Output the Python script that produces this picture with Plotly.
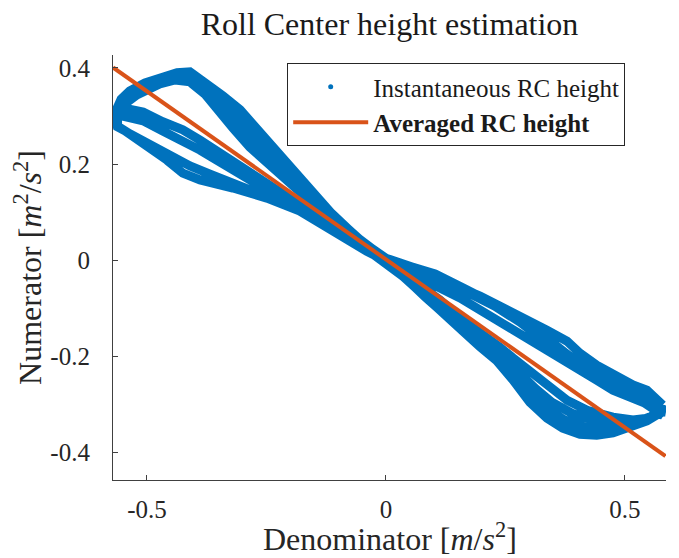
import plotly.graph_objects as go

# ---- data ----
# Instantaneous RC height: four hysteresis cycles (Denominator, Numerator)
cycle1_x = [0.579, 0.546, 0.517, 0.475, 0.441, 0.406, 0.379, 0.337, 0.266, 0.197, 0.128, 0.056, 0.0,
            -0.061, -0.096, -0.132, -0.165, -0.201, -0.228, -0.270, -0.305, -0.341, -0.368, -0.389, -0.410,
            -0.437, -0.473, -0.504, -0.536, -0.554, -0.563, -0.563,
            -0.561, -0.546, -0.515, -0.479, -0.458, -0.425, -0.389, -0.320, -0.249, -0.180, -0.111, -0.040, 0.0,
            0.023, 0.056, 0.092, 0.128, 0.161, 0.197, 0.232, 0.266, 0.301, 0.337, 0.370, 0.406, 0.441,
            0.475, 0.510, 0.546, 0.569, 0.579]
cycle1_y = [-0.302, -0.271, -0.260, -0.240, -0.219, -0.194, -0.169, -0.146, -0.110, -0.075, -0.046, -0.015, 0.004,
            0.046, 0.077, 0.117, 0.154, 0.192, 0.227, 0.271, 0.313, 0.342, 0.360, 0.379, 0.392,
            0.390, 0.381, 0.369, 0.352, 0.335, 0.315, 0.292,
            0.277, 0.269, 0.248, 0.223, 0.208, 0.181, 0.167, 0.150, 0.129, 0.102, 0.060, 0.018, -0.002,
            -0.021, -0.052, -0.085, -0.115, -0.148, -0.181, -0.210, -0.250, -0.296, -0.329, -0.350, -0.363, -0.365,
            -0.360, -0.350, -0.335, -0.321, -0.302]

cycle2_x = [0.577, 0.552, 0.517, 0.475, 0.441, 0.406, 0.364, 0.322, 0.266, 0.218, 0.155, 0.092, 0.050, 0.0,
            -0.054, -0.096, -0.138, -0.180, -0.215, -0.249, -0.285, -0.320, -0.354, -0.379, -0.410, -0.441,
            -0.473, -0.504, -0.536, -0.554, -0.561,
            -0.550, -0.508, -0.467, -0.425, -0.389, -0.354, -0.320, -0.285, -0.249, -0.215, -0.180, -0.144,
            -0.090, -0.044, 0.0,
            0.029, 0.071, 0.113, 0.155, 0.197, 0.238, 0.266, 0.301, 0.337, 0.379, 0.421, 0.475, 0.517,
            0.552, 0.577]
cycle2_y = [-0.313, -0.302, -0.288, -0.271, -0.250, -0.229, -0.202, -0.177, -0.146, -0.115, -0.079, -0.048, -0.025, 0.0,
            0.040, 0.071, 0.106, 0.142, 0.173, 0.204, 0.235, 0.275, 0.313, 0.346, 0.371, 0.375,
            0.367, 0.354, 0.338, 0.321, 0.306,
            0.317, 0.308, 0.288, 0.271, 0.250, 0.227, 0.204, 0.181, 0.158, 0.135, 0.113, 0.090,
            0.054, 0.027, 0.0,
            -0.021, -0.052, -0.083, -0.121, -0.150, -0.181, -0.204, -0.233, -0.263, -0.292, -0.313, -0.327, -0.333,
            -0.329, -0.313]

cycle3_x = [0.573, 0.542, 0.500, 0.458, 0.416, 0.374, 0.333, 0.280, 0.228, 0.165, 0.103, 0.050, 0.0,
            -0.059, -0.107, -0.149, -0.190, -0.226, -0.264, -0.299, -0.337, -0.368, -0.400, -0.431, -0.462,
            -0.494, -0.525, -0.548, -0.563, -0.565,
            -0.565, -0.536, -0.494, -0.452, -0.410, -0.368, -0.312, -0.264, -0.211, -0.159, -0.096, -0.044, 0.0,
            0.040, 0.082, 0.123, 0.165, 0.207, 0.249, 0.291, 0.333, 0.374, 0.416, 0.458, 0.500, 0.542, 0.573]
cycle3_y = [-0.319, -0.298, -0.277, -0.256, -0.231, -0.200, -0.167, -0.129, -0.096, -0.063, -0.033, -0.017, -0.002,
            0.046, 0.090, 0.131, 0.177, 0.219, 0.260, 0.300, 0.335, 0.360, 0.383, 0.388, 0.379,
            0.367, 0.350, 0.333, 0.313, 0.292,
            0.281, 0.263, 0.240, 0.215, 0.196, 0.179, 0.158, 0.138, 0.117, 0.096, 0.063, 0.025, -0.002,
            -0.037, -0.077, -0.115, -0.150, -0.183, -0.221, -0.271, -0.308, -0.333, -0.348, -0.350, -0.346, -0.333, -0.319]

cycle4_x = [0.573, 0.542, 0.500, 0.458, 0.416, 0.374, 0.333, 0.280, 0.228, 0.165, 0.103, 0.050, 0.0,
            -0.056, -0.100, -0.142, -0.184, -0.224, -0.259, -0.293, -0.328, -0.362, -0.393, -0.425, -0.456,
            -0.490, -0.521, -0.544, -0.559,
            -0.552, -0.508, -0.467, -0.425, -0.389, -0.354, -0.320, -0.285, -0.249, -0.215, -0.180, -0.144,
            -0.090, -0.044, 0.0,
            0.033, 0.075, 0.117, 0.159, 0.201, 0.243, 0.276, 0.312, 0.347, 0.389, 0.431, 0.479, 0.521, 0.556, 0.573]
cycle4_y = [-0.308, -0.283, -0.267, -0.246, -0.223, -0.192, -0.160, -0.125, -0.092, -0.060, -0.029, -0.013, 0.002,
            0.044, 0.081, 0.121, 0.158, 0.194, 0.229, 0.269, 0.310, 0.344, 0.375, 0.381, 0.375,
            0.360, 0.344, 0.327, 0.308,
            0.300, 0.290, 0.269, 0.250, 0.229, 0.208, 0.188, 0.167, 0.146, 0.125, 0.104, 0.083,
            0.050, 0.023, -0.002,
            -0.029, -0.065, -0.098, -0.135, -0.167, -0.200, -0.233, -0.267, -0.296, -0.319, -0.333, -0.338, -0.338, -0.325, -0.308]

# Averaged RC height (fitted line end points)
avg_x = [-0.571, 0.585]
avg_y = [0.401, -0.408]

# tick labels
x_tick_vals = [-0.5, 0, 0.5]
x_tick_text = ["-0.5", "0", "0.5"]
y_tick_vals = [-0.4, -0.2, 0, 0.2, 0.4]
y_tick_text = ["-0.4", "-0.2", "0", "0.2", "0.4"]

BLUE = "#0072BD"
ORANGE = "#D95319"
FONT = "Liberation Serif, Times New Roman, serif"

inst_x = cycle1_x + cycle2_x + cycle3_x + cycle4_x
inst_y = cycle1_y + cycle2_y + cycle3_y + cycle4_y

fig = go.Figure()
fig.add_trace(go.Scatter(x=inst_x, y=inst_y, mode="lines",
                         line=dict(color=BLUE, width=9),
                         legendgroup="inst", showlegend=False, hoverinfo="skip"))
fig.add_trace(go.Scatter(x=[None], y=[None], mode="markers",
                         marker=dict(color=BLUE, size=5),
                         name="Instantaneous RC height", legendgroup="inst"))
fig.add_trace(go.Scatter(x=avg_x, y=avg_y, mode="lines",
                         line=dict(color=ORANGE, width=4),
                         name="<b>Averaged RC height</b>"))

axis_common = dict(showline=True, linecolor="#404040", linewidth=1.2, mirror=False,
                   ticks="inside", ticklen=5, tickcolor="#404040", tickwidth=1,
                   showgrid=False, zeroline=False, automargin=False,
                   tickfont=dict(family=FONT, size=25, color="#262626"))

# the page body keeps its default 8 px margin, so the figure is 8 px smaller
fig.update_layout(
    width=671, height=550,
    paper_bgcolor="white", plot_bgcolor="white",
    margin=dict(l=105, r=13, t=47, b=78),
    font=dict(family=FONT, color="#262626"),
    title=dict(text="Roll Center height estimation", x=0.5, xref="paper", xanchor="center",
               y=0.971, yref="container", yanchor="middle",
               font=dict(family=FONT, size=32, color="#1a1a1a")),
    xaxis=dict(range=[-0.571, 0.586], tickvals=x_tick_vals, ticktext=x_tick_text,
               ticklabelstandoff=7,
               **axis_common),
    yaxis=dict(range=[-0.458, 0.427], tickvals=y_tick_vals, ticktext=y_tick_text,
               ticklabelstandoff=17,
               title=dict(text="Numerator [<i>m</i><sup>2</sup>/<i>s</i><sup>2</sup>]", standoff=3,
                          font=dict(family=FONT, size=32, color="#262626")),
               **axis_common),
    legend=dict(x=0.315, y=0.981, xanchor="left", yanchor="top",
                bgcolor="white", bordercolor="#262626", borderwidth=1,
                itemwidth=75, tracegroupgap=0,
                font=dict(family=FONT, size=25, color="#1a1a1a")),
    showlegend=True,
    annotations=[dict(text="Denominator [<i>m</i>/<i>s</i><sup>2</sup>]",
                      x=0.5, xref="paper", xanchor="center",
                      y=-0.134, yref="paper", yanchor="middle",
                      showarrow=False,
                      font=dict(family=FONT, size=32, color="#262626"))],
)

fig.write_html("out.html")
